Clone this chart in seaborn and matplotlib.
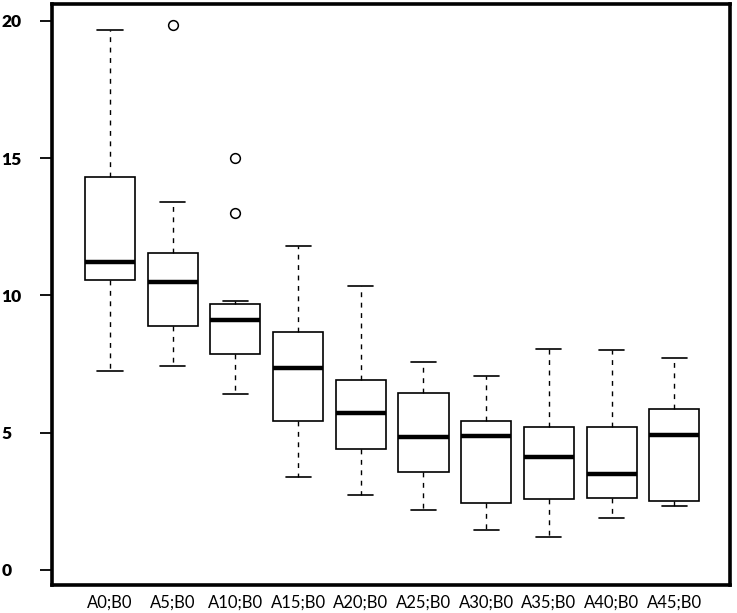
import seaborn as sns
import matplotlib.pyplot as plt
import pandas as pd

# five-number summaries (whisker ends, hinges, median)
groups = ['A0;B0', 'A5;B0', 'A10;B0', 'A15;B0', 'A20;B0',
          'A25;B0', 'A30;B0', 'A35;B0', 'A40;B0', 'A45;B0']
whisker_lo = [7.24, 7.42, 6.40, 3.38, 2.73, 2.18, 1.45, 1.20, 1.89, 2.33]
q1 = [10.55, 8.87, 7.85, 5.42, 4.40, 3.56, 2.44, 2.58, 2.62, 2.51]
median = [11.20, 10.50, 9.09, 7.35, 5.70, 4.84, 4.87, 4.11, 3.49, 4.91]
q3 = [14.33, 11.56, 9.68, 8.65, 6.90, 6.44, 5.42, 5.20, 5.20, 5.85]
whisker_hi = [19.67, 13.40, 9.78, 11.80, 10.36, 7.56, 7.05, 8.04, 8.00, 7.71]

outlier_group = ['A5;B0', 'A10;B0', 'A10;B0']
outlier_value = [19.85, 15.0, 13.0]

rows = []
for i, g in enumerate(groups):
    for v in (whisker_lo[i], q1[i], median[i], q3[i], whisker_hi[i]):
        rows.append({'group': g, 'value': v})
box_df = pd.DataFrame(rows)
out_df = pd.DataFrame({'group': outlier_group, 'value': outlier_value})

sns.set_theme(style="white")
plt.rcParams['font.family'] = ['Lato', 'DejaVu Sans']

fig = plt.figure(figsize=(7.37, 6.13), dpi=100)
ax = fig.add_axes([0.0706, 0.0457, 0.92, 0.948])

# with 5 points per group the percentiles land exactly on the summary values
sns.boxplot(data=box_df, x='group', y='value', order=groups, ax=ax,
            whis=(0, 100), width=0.8, color='white', linecolor='black',
            linewidth=1.2,
            whiskerprops={'linestyle': (0, (3.5, 4)), 'linewidth': 1.0},
            capprops={'linewidth': 1.2},
            medianprops={'linewidth': 3.2, 'color': 'black'})

sns.stripplot(data=out_df, x='group', y='value', order=groups, ax=ax,
              jitter=False, marker='o', size=7, color='white',
              edgecolor='black', linewidth=1.1, zorder=5)

ax.set_xlim(-0.925, 9.89)
ax.set_ylim(-0.55, 20.62)
ax.set_yticks([0, 5, 10, 15, 20])
ax.set_xlabel('')
ax.set_ylabel('')

for side in ['left', 'right', 'top', 'bottom']:
    ax.spines[side].set_visible(True)
    ax.spines[side].set_color('black')
    ax.spines[side].set_linewidth(2.6)

ax.tick_params(axis='x', length=0, pad=7, labelsize=12, colors='black')
ax.tick_params(axis='y', left=True, length=8.5, width=1.3, pad=28,
               labelsize=12.5, colors='black')
for lab in ax.get_yticklabels():
    lab.set_fontweight('heavy')
    lab.set_horizontalalignment('left')

fig.savefig('out.png', dpi=100, facecolor='white')
